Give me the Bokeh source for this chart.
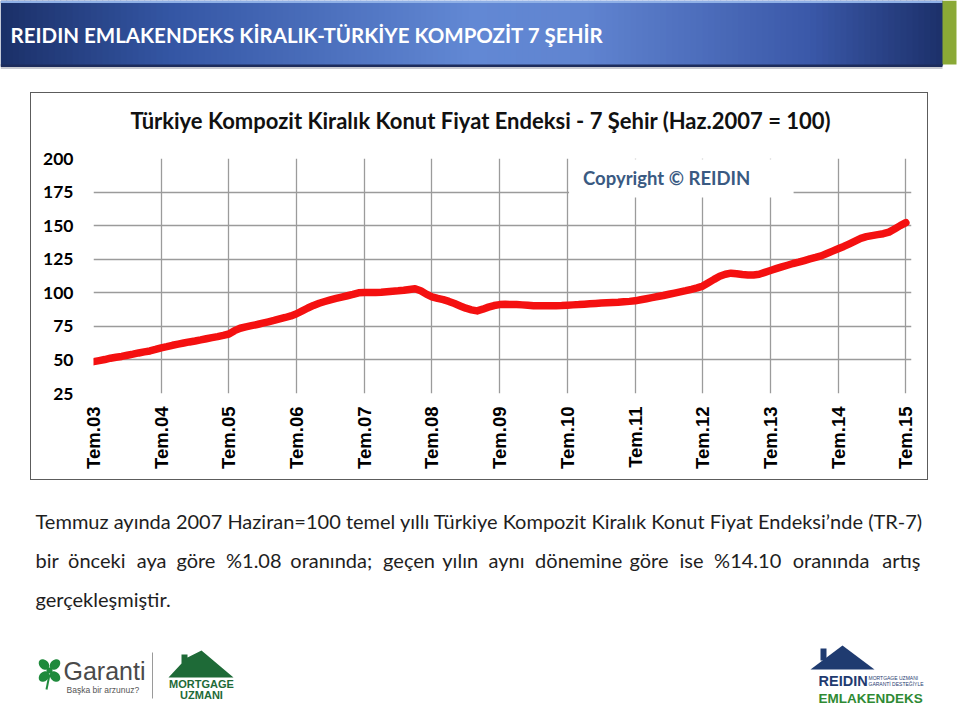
import math
from bokeh.plotting import figure
from bokeh.models import Range1d, FixedTicker, Spacer, BoxAnnotation, Label, Title
from bokeh.layouts import column, row
from bokeh.embed import file_html
from bokeh.resources import INLINE
from bokeh.core.properties import value

# ---------------- data ----------------
tick_labels = ["Tem.03", "Tem.04", "Tem.05", "Tem.06", "Tem.07", "Tem.08", "Tem.09",
               "Tem.10", "Tem.11", "Tem.12", "Tem.13", "Tem.14", "Tem.15"]
y_ticks = [25, 50, 75, 100, 125, 150, 175, 200]

# monthly index values (Haz.2007 = 100), Tem.2003 ... Tem.2015
idx_2003 = [48.7, 49.5, 50.3, 51.3, 52.0, 52.6]
idx_2004 = [53.5, 54.3, 55.2, 56.0, 56.7, 57.8, 59.0, 59.9, 60.9, 61.8, 62.6, 63.4]
idx_2005 = [64.1, 64.9, 65.8, 66.6, 67.4, 68.3, 69.3, 71.8, 73.6, 74.6, 75.5, 76.4]
idx_2006 = [77.4, 78.4, 79.4, 80.5, 81.6, 82.8, 84.4, 86.5, 88.7, 90.6, 92.2, 93.5]
idx_2007 = [94.7, 95.8, 96.8, 97.8, 98.8, 100.0, 100.2, 100.3, 100.3, 100.4, 100.8, 101.2]
idx_2008 = [101.5, 101.9, 102.5, 103.0, 101.5, 99.0, 97.0, 95.8, 94.9, 93.6, 92.0, 90.2]
idx_2009 = [88.5, 87.3, 86.5, 87.8, 89.3, 90.5, 91.2, 91.4, 91.3, 91.2, 91.0, 90.7]
idx_2010 = [90.4, 90.3, 90.3, 90.3, 90.4, 90.5, 90.8, 91.0, 91.2, 91.5, 91.8, 92.1]
idx_2011 = [92.4, 92.6, 92.8, 93.0, 93.3, 93.6, 94.0, 94.8, 95.6, 96.4, 97.2, 98.0]
idx_2012 = [98.9, 99.8, 100.7, 101.6, 102.6, 103.7, 105.0, 107.5, 110.0, 112.3, 113.8, 114.6]
idx_2013 = [114.2, 113.6, 113.3, 113.3, 113.8, 115.2, 116.6, 118.0, 119.3, 120.5, 121.8, 122.8]
idx_2014 = [124.0, 125.2, 126.3, 127.5, 129.2, 131.0, 132.8, 134.5, 136.5, 138.5, 140.5, 141.8]
idx_2015 = [142.6, 143.3, 144.0, 145.2, 147.5, 150.0, 152.2]

index_values = (idx_2003 + idx_2004 + idx_2005 + idx_2006 + idx_2007 + idx_2008 + idx_2009 +
                idx_2010 + idx_2011 + idx_2012 + idx_2013 + idx_2014 + idx_2015)
month_no = list(range(len(index_values)))
tick_pos = [12 * i for i in range(len(tick_labels))]

header_title = "REIDIN EMLAKENDEKS KİRALIK-TÜRKİYE KOMPOZİT 7 ŞEHİR"
chart_title = "Türkiye Kompozit Kiralık Konut Fiyat Endeksi - 7 Şehir (Haz.2007 = 100)"
copyright_text = "Copyright © REIDIN"
para_line1 = "Temmuz ayında 2007 Haziran=100 temel yıllı Türkiye Kompozit Kiralık Konut Fiyat Endeksi’nde (TR-7)"
para_line2_words = ["bir", "önceki", "aya", "göre", "%1.08", "oranında;", "geçen", "yılın",
                    "aynı", "dönemine", "göre", "ise", "%14.10", "oranında", "artış"]
para_line3 = "gerçekleşmiştir."

FONT = "Lato"

# ---------------- header ----------------
hdr = figure(width=960, height=92, x_range=Range1d(0, 960), y_range=Range1d(92, 0),
             output_backend="svg", toolbar_location=None, min_border=0,
             x_axis_type=None, y_axis_type=None)
hdr.grid.visible = False
hdr.outline_line_color = None

stops = [(0.0, (27, 48, 104)), (0.18, (52, 86, 164)), (0.5, (98, 136, 212)),
         (0.62, (96, 132, 208)), (0.86, (58, 88, 168)), (1.0, (28, 48, 106))]


def grad(t):
    for (t0, c0), (t1, c1) in zip(stops[:-1], stops[1:]):
        if t0 <= t <= t1:
            f = (t - t0) / (t1 - t0)
            return "#%02x%02x%02x" % tuple(int(round(a + (b - a) * f)) for a, b in zip(c0, c1))
    return "#%02x%02x%02x" % stops[-1][1]


n = 157
bar_w = 942.0 / n
lefts = [i * bar_w for i in range(n)]
rights = [(i + 1) * bar_w + 0.6 for i in range(n)]
cols = [grad((i + 0.5) / n) for i in range(n)]
hdr.quad(left=lefts, right=rights, top=[0] * n, bottom=[65] * n, fill_color=cols, line_color=None)
hdr.quad(left=[0], right=[942], top=[0], bottom=[2.5], fill_color="#8fb0e6", line_color=None)
hdr.quad(left=[0], right=[942], top=[64], bottom=[66.5], fill_color="#1d2c5c", line_color=None)
hdr.quad(left=[0], right=[942], top=[66.5], bottom=[68.5], fill_color="#c9cbd2", line_color=None)
hdr.quad(left=[942], right=[956], top=[0], bottom=[64], fill_color="#8aa936", line_color=None)
hdr.add_layout(Label(x=10, y=34, text=header_title, text_color="white", text_font=FONT,
                     text_font_style="bold", text_font_size="20.5px", text_baseline="middle"))

# ---------------- chart ----------------
chart = figure(width=898, height=388, x_range=Range1d(0, 145), y_range=Range1d(25, 200),
               output_backend="svg", toolbar_location=None, title=None,
               min_border_left=62, min_border_right=18, min_border_top=65, min_border_bottom=88,
               styles={"border": "1px solid #5c5c5c"})
chart.outline_line_color = None
# an empty spacer title next to the frame, then the real title above it
chart.add_layout(Title(text=" ", text_font_size="1px", standoff=20), "above")
chart.add_layout(Title(text=chart_title, align="left", offset=37, standoff=4,
                       text_font=FONT, text_font_style="bold", text_font_size="22px",
                       text_color="#111111"), "above")

chart.xaxis.ticker = FixedTicker(ticks=tick_pos)
chart.xaxis.major_label_overrides = {p: l for p, l in zip(tick_pos, tick_labels)}
chart.xaxis.major_label_orientation = math.pi / 2
chart.xaxis.major_label_standoff = 13
chart.xaxis.major_label_text_font = "Liberation Sans"
chart.xaxis.major_label_text_font_style = "bold"
chart.xaxis.major_label_text_font_size = "18.5px"
chart.yaxis.ticker = FixedTicker(ticks=y_ticks)
chart.yaxis.major_label_standoff = 20
chart.yaxis.major_label_text_font = FONT
chart.yaxis.major_label_text_font_style = "bold"
chart.yaxis.major_label_text_font_size = "17.5px"
for ax in (chart.xaxis, chart.yaxis):
    ax.axis_line_color = None
    ax.major_tick_line_color = None
    ax.minor_tick_line_color = None
    ax.major_tick_out = 0
    ax.major_tick_in = 0
    ax.minor_tick_out = 0
    ax.minor_tick_in = 0
    ax.major_label_text_color = "#000000"

chart.xgrid.ticker = FixedTicker(ticks=tick_pos)
chart.ygrid.ticker = FixedTicker(ticks=y_ticks)
chart.grid.grid_line_color = "#9b9b9b"
chart.grid.grid_line_width = 1.3

chart.add_layout(BoxAnnotation(left=84.3, right=124.1, top=199.4, bottom=171.0,
                               fill_color="white", fill_alpha=1.0, line_color=None, level="underlay"))
chart.line(month_no, index_values, line_color="#f41010", line_width=7.5, line_join="round",
           line_cap="round")
chart.add_layout(Label(x=101.6, y=185.3, text=copyright_text, text_align="center",
                       text_baseline="middle", text_font=FONT, text_font_style="bold",
                       text_font_size="18.5px", text_color="#3a5a82"))

# ---------------- bottom (text + logos) ----------------
bot = figure(width=960, height=228, x_range=Range1d(0, 960), y_range=Range1d(710, 482),
             output_backend="svg", toolbar_location=None, min_border=0,
             x_axis_type=None, y_axis_type=None)
bot.grid.visible = False
bot.outline_line_color = None


def lab(x, y, text, size, color, font=FONT, bold=False, align="left"):
    bot.add_layout(Label(x=x, y=y, text=text, text_font=font, text_font_size=size,
                         text_color=color, text_baseline="middle", text_align=align,
                         text_font_style="bold" if bold else "normal"))


TXT = "#1e1e1e"
PFS = "20px"
lab(35, 520, para_line1, PFS, TXT)
word_x = [35, 67.6, 136.2, 175.9, 225.5, 289.8, 382.6, 441.8, 488.0, 534.6, 629.0, 679, 713.6,
          792.2, 920]
for i, (wx, w) in enumerate(zip(word_x, para_line2_words)):
    lab(wx, 559, w, PFS, TXT, align="right" if i == len(para_line2_words) - 1 else "left")
lab(35, 598, para_line3, PFS, TXT)

# Garanti logo
g_green = "#1f8a3c"
bot.ellipse(x=[43.5, 54.5, 43.5, 54.5], y=[664, 664, 676, 676], width=12, height=9,
            angle=[-0.785, 0.785, 0.785, -0.785], fill_color=g_green, line_color=None)
bot.ellipse(x=[49], y=[670], width=6, height=6, fill_color=g_green, line_color=None)
bot.segment(x0=[49], y0=[674], x1=[46], y1=[689], line_color=g_green, line_width=2)
lab(63, 670, "Garanti", "25px", "#4a4a4a", font="Liberation Sans")
lab(66, 689, "Başka bir arzunuz?", "8.5px", "#555555", font="Liberation Sans")
bot.segment(x0=[152], y0=[652], x1=[152], y1=[698], line_color="#9a9a9a", line_width=1)

# Mortgage Uzmani logo
m_green = "#1e6a37"
bot.patch(x=[168, 181, 181, 187, 187, 201, 233],
          y=[677, 663, 654, 654, 657, 650, 677], fill_color=m_green, line_color=None)
lab(201, 683, "MORTGAGE", "11px", m_green, font="Liberation Sans", bold=True, align="center")
lab(201, 694, "UZMANI", "11px", m_green, font="Liberation Sans", bold=True, align="center")

# REIDIN Emlakendeks logo
navy = "#1f3b70"
bot.patch(x=[810, 842, 874], y=[669, 645, 669], fill_color=navy, line_color=None)
bot.quad(left=[820], right=[826], top=[648], bottom=[660], fill_color=navy, line_color=None)
lab(818, 680, "REIDIN", "14.5px", navy, font="Liberation Sans", bold=True)
lab(868, 677, "MORTGAGE UZMANI", "5px", navy, font="Liberation Sans")
lab(868, 683, "GARANTİ DESTEĞİYLE", "5px", navy, font="Liberation Sans")
lab(818, 698, "EMLAKENDEKS", "13.5px", "#2f8a34", font="Liberation Sans", bold=True)

layout = column(hdr, row(Spacer(width=30, height=390), chart), bot)
open("out.html", "w").write(file_html(layout, INLINE))
